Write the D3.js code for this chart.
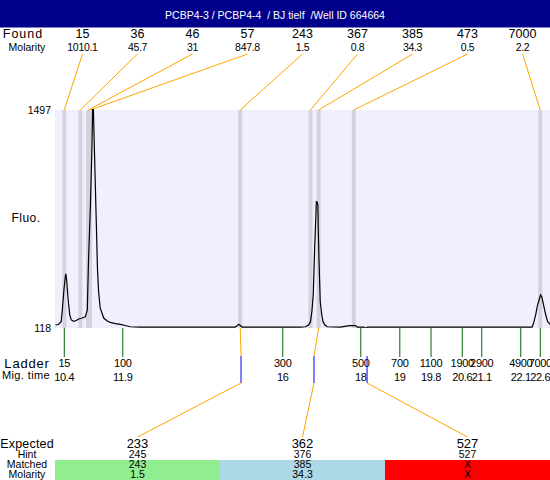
<!DOCTYPE html>
<html><head><meta charset="utf-8">
<script src="https://cdn.jsdelivr.net/npm/d3@7"></script>
<style>
body{margin:0;background:#fff}
svg{display:block;font-family:"Liberation Sans",Arial,Helvetica,sans-serif}
</style>
</head><body><svg id="c" width="550" height="480"></svg>
<script>
// ---------- data ----------
const title = "PCBP4-3 / PCBP4-4  / BJ tielf  /Well ID 664664";
const foundSizes = ["15","36","46","57","243","367","385","473","7000"];
const foundMolarity = ["1010.1","45.7","31","847.8","1.5","0.8","34.3","0.5","2.2"];
const foundTimes = [10.4,10.81,11.01,11.06,14.91,16.71,16.92,17.82,22.6];
const ladderSizes = ["15","100","300","500","700","1100","1900","2900","4900","7000"];
const ladderTimes = [10.4,11.9,16,18,19,19.8,20.6,21.1,22.1,22.6];
const expected = ["233","362","527"];
const hints = ["245","376","527"];
const hintTimes = [14.93,16.80,18.16];
const matched = ["243","385","X"];
const matchedMolarity = ["1.5","34.3","X"];
const matchedFoundIndex = [4,6,-1];
const statusColors = ["#90EE90","#ADD8E6","#FF0000"];
const yTicks = [118,1497];
const traceTime = [10.17,10.25,10.32,10.35,10.39,10.43,10.44,10.46,10.50,10.54,10.58,10.64,10.71,10.77,10.86,10.94,10.99,11.02,11.07,11.11,11.13,11.14,11.18,11.22,11.25,11.28,11.32,11.41,11.50,11.58,11.71,11.84,11.96,12.09,12.35,13.89,14.78,14.84,14.87,14.91,14.96,16.45,16.58,16.66,16.71,16.75,16.78,16.82,16.85,16.86,16.88,16.90,16.91,16.93,16.96,17.00,17.03,17.08,17.14,17.48,17.66,17.73,17.86,17.91,18.07,18.12,18.17,19.53,22.39,22.43,22.48,22.53,22.59,22.61,22.64,22.70,22.74,22.79,22.87];
const traceFluo = [137,140,158,232,358,453,460,422,295,200,169,160,165,175,181,189,232,537,896,1276,1560,1560,1170,790,498,346,245,181,162,154,146,141,134,126,124,124,124,134,141,134,124,124,126,137,158,232,327,643,833,917,915,896,738,537,284,200,158,137,126,124,131,133,133,124,124,117,124,124,124,150,200,263,314,327,314,245,200,158,137];

// ---------- layout ----------
const svg = d3.select("#c");
const W = 550, H = 480;
const plotL = 55, plotR = 550, plotT = 110, plotB = 328;
const x = d3.scaleLinear().domain([10.162,22.849]).range([plotL,plotR]);
const y = d3.scaleLinear().domain([118,1497]).range([plotB,plotT]);
const foundBand = d3.scaleBand().domain(d3.range(foundSizes.length)).range([plotL,plotR]);
const expBand = d3.scaleBand().domain(d3.range(expected.length)).range([plotL,plotR]);
const orange = "#FFA500", blue = "#0000FF", green = "#006400";

// title
svg.append("rect").attr("x",0).attr("y",0).attr("width",W).attr("height",27.5).attr("fill","#00008B");
svg.append("text").attr("x",275).attr("y",18.5).attr("text-anchor","middle")
  .attr("fill","#fff").attr("font-size",10.5).style("white-space","pre").text(title);

// found rows
svg.append("text").attr("x",23).attr("y",38).attr("text-anchor","middle").attr("font-size",12.5)
  .attr("letter-spacing",1).text("Found");
svg.append("text").attr("x",27).attr("y",51).attr("text-anchor","middle").attr("font-size",10.5).text("Molarity");
const fc = i => foundBand(i) + foundBand.bandwidth()/2;
svg.selectAll(".fs").data(foundSizes).join("text").attr("x",(d,i)=>fc(i)).attr("y",38)
  .attr("text-anchor","middle").attr("font-size",12.5).text(d=>d);
svg.selectAll(".fm").data(foundMolarity).join("text").attr("x",(d,i)=>fc(i)).attr("y",51)
  .attr("text-anchor","middle").attr("font-size",10.5).attr("letter-spacing",-0.3).text(d=>d);

// plot background
svg.append("rect").attr("x",plotL).attr("y",plotT).attr("width",plotR-plotL).attr("height",plotB-plotT).attr("fill","#EFEFFD");
// peak bands
svg.selectAll(".band").data(foundTimes).join("rect").attr("x",d=>x(d)-2).attr("y",plotT)
  .attr("width",4).attr("height",plotB-plotT).attr("fill","#D3D3DF");
// connector lines found label -> peak
svg.selectAll(".fl").data(foundTimes).join("line")
  .attr("x1",(d,i)=>fc(i)).attr("y1",54).attr("x2",d=>x(d)).attr("y2",plotT)
  .attr("stroke",orange).attr("stroke-width",1);

// trace
svg.append("clipPath").attr("id","clip").append("rect").attr("x",plotL).attr("y",plotT-1).attr("width",plotR-plotL).attr("height",plotB-plotT+1);
const line = d3.line().x(d=>x(d[0])).y(d=>y(d[1]));
svg.append("path").datum(d3.zip(traceTime,traceFluo)).attr("d",line).attr("fill","none")
  .attr("stroke","#000").attr("stroke-width",1.2).attr("clip-path","url(#clip)");

// y labels
svg.selectAll(".yt").data(yTicks).join("text").attr("x",51).attr("y",d=>y(d)+4).attr("text-anchor","end")
  .attr("font-size",10.5).text(d=>d);
svg.append("text").attr("x",26).attr("y",222).attr("text-anchor","middle").attr("font-size",12).attr("letter-spacing",0.5).text("Fluo.");

// ladder
svg.selectAll(".lt").data(ladderTimes).join("line").attr("x1",d=>x(d)).attr("x2",d=>x(d))
  .attr("y1",plotB).attr("y2",357).attr("stroke",green).attr("stroke-width",1);
svg.selectAll(".ls").data(ladderSizes).join("text").attr("x",(d,i)=>x(ladderTimes[i])).attr("y",367)
  .attr("text-anchor","middle").attr("font-size",11).attr("letter-spacing",-0.3).text(d=>d);
svg.selectAll(".lm").data(ladderTimes).join("text").attr("x",d=>x(d)).attr("y",381)
  .attr("text-anchor","middle").attr("font-size",11).attr("letter-spacing",-0.3).text(d=>d);
svg.append("text").attr("x",27).attr("y",368).attr("text-anchor","middle").attr("font-size",13).attr("letter-spacing",0.8).text("Ladder");
svg.append("text").attr("x",26).attr("y",379).attr("text-anchor","middle").attr("font-size",11).attr("letter-spacing",0.4).text("Mig. time");

// expected connectors
const ec = i => expBand(i) + expBand.bandwidth()/2;
hintTimes.forEach((t,i)=>{
  const fi = matchedFoundIndex[i];
  if (fi >= 0) {
    svg.append("line").attr("x1",x(foundTimes[fi])).attr("y1",plotB).attr("x2",x(t)).attr("y2",356)
      .attr("stroke",orange).attr("stroke-width",1);
  }
  svg.append("line").attr("x1",x(t)).attr("x2",x(t)).attr("y1",356).attr("y2",383).attr("stroke",blue).attr("stroke-width",1);
  svg.append("line").attr("x1",x(t)).attr("y1",383).attr("x2",ec(i)).attr("y2",437).attr("stroke",orange).attr("stroke-width",1);
});

// bottom table
svg.selectAll(".st").data(statusColors).join("rect").attr("x",(d,i)=>expBand(i)).attr("y",460)
  .attr("width",expBand.bandwidth()).attr("height",20).attr("fill",d=>d);
svg.append("text").attr("x",27).attr("y",448).attr("text-anchor","middle").attr("font-size",12.5).attr("letter-spacing",0.2).text("Expected");
svg.append("text").attr("x",27).attr("y",458).attr("text-anchor","middle").attr("font-size",10.5).text("Hint");
svg.append("text").attr("x",27).attr("y",468).attr("text-anchor","middle").attr("font-size",10.5).text("Matched");
svg.append("text").attr("x",27).attr("y",478).attr("text-anchor","middle").attr("font-size",10.5).text("Molarity");
svg.selectAll(".ev").data(expected).join("text").attr("x",(d,i)=>ec(i)).attr("y",448).attr("text-anchor","middle").attr("font-size",13).text(d=>d);
svg.selectAll(".hv").data(hints).join("text").attr("x",(d,i)=>ec(i)).attr("y",458).attr("text-anchor","middle").attr("font-size",10.5).text(d=>d);
svg.selectAll(".mv").data(matched).join("text").attr("x",(d,i)=>ec(i)).attr("y",468).attr("text-anchor","middle").attr("font-size",10.5).text(d=>d);
svg.selectAll(".mm").data(matchedMolarity).join("text").attr("x",(d,i)=>ec(i)).attr("y",478).attr("text-anchor","middle").attr("font-size",10.5).text(d=>d);
</script>
</body></html>
